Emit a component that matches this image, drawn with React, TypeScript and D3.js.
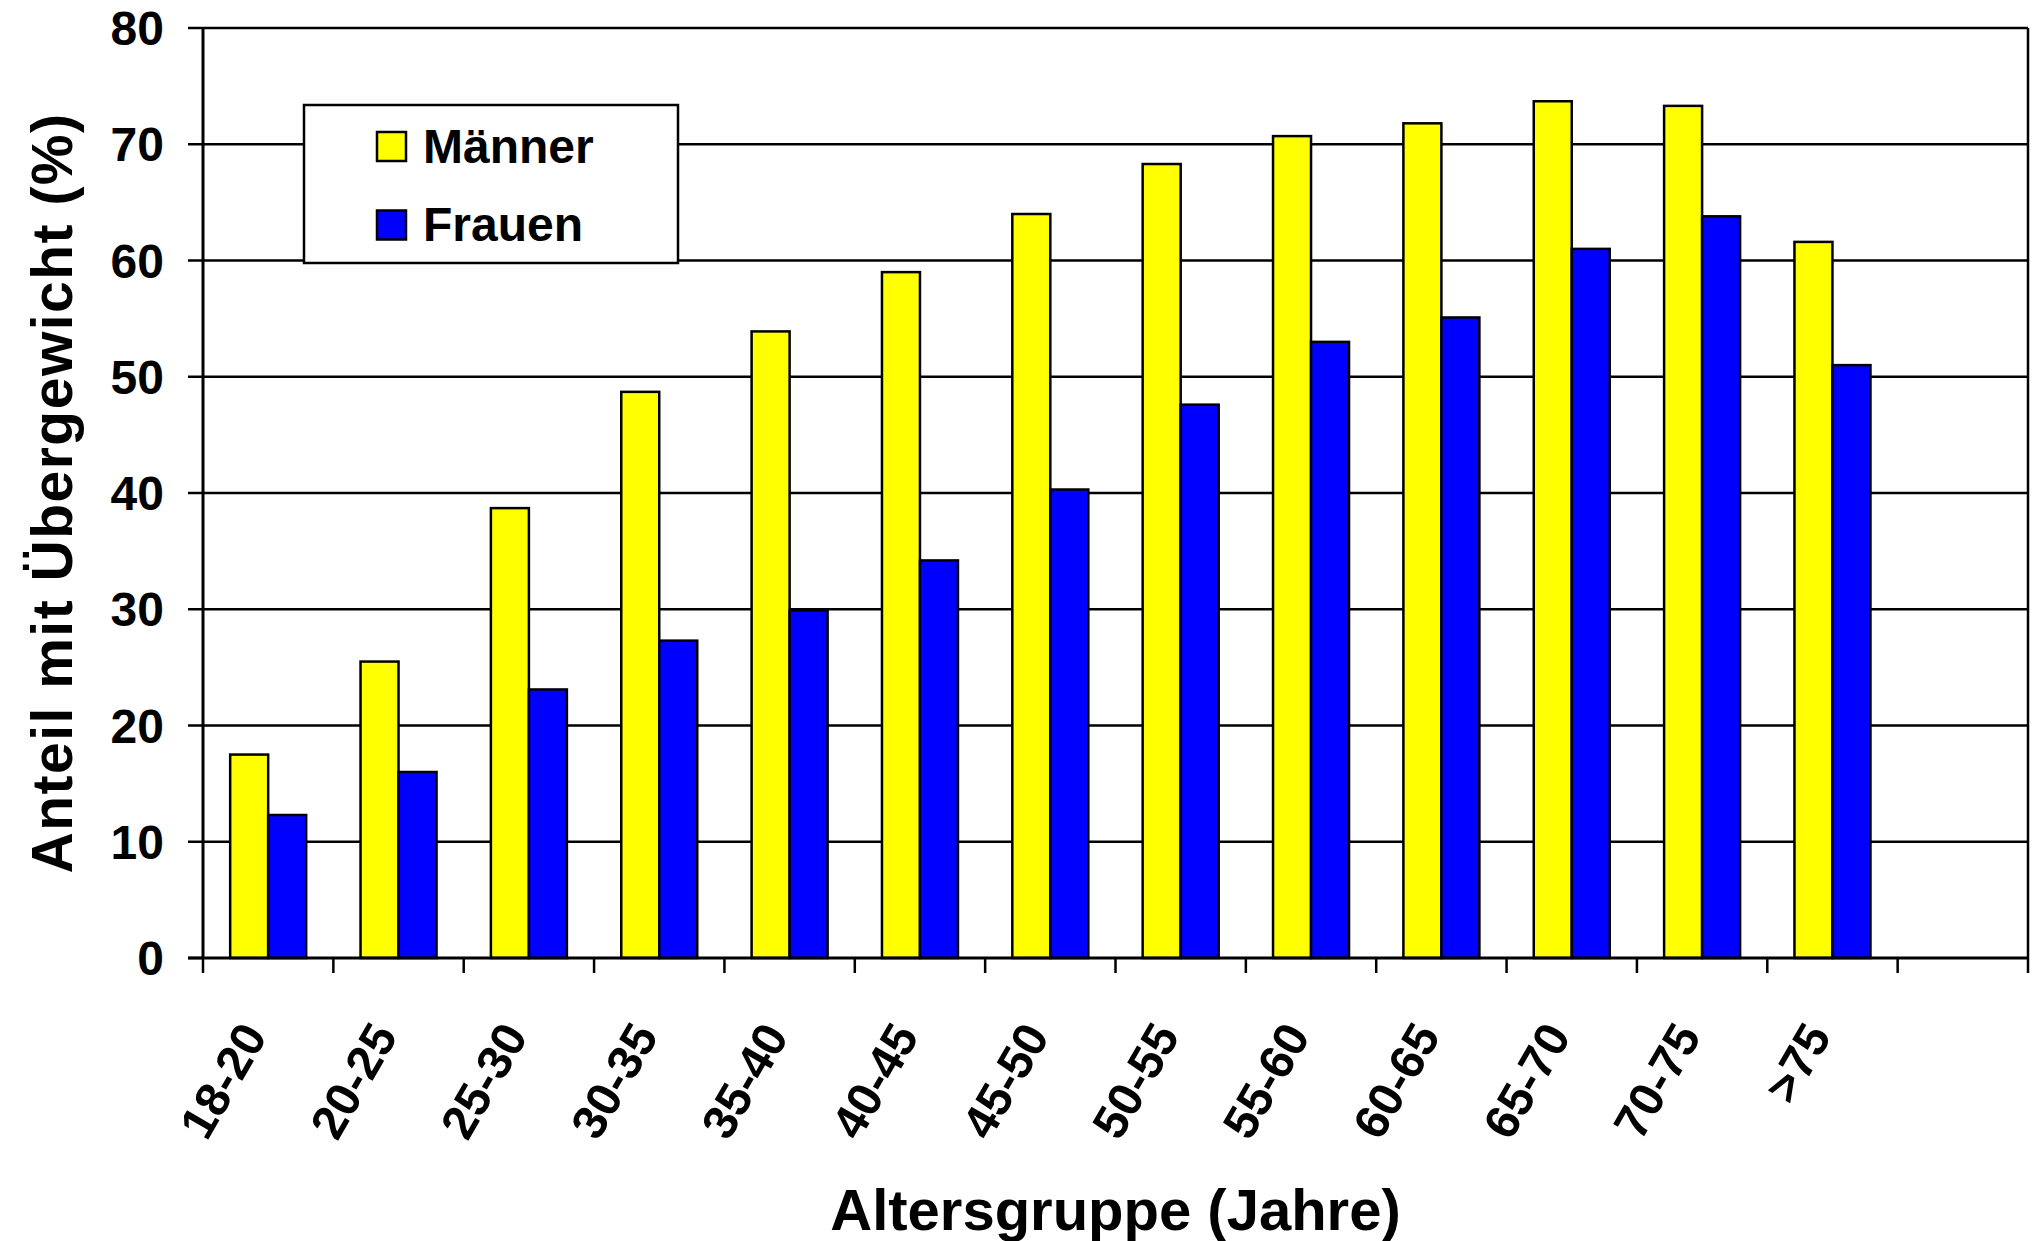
import React from "react";
import * as d3 from "d3";

const categories = ["18-20", "20-25", "25-30", "30-35", "35-40", "40-45", "45-50", "50-55", "55-60", "60-65", "65-70", "70-75", ">75"];
const maenner = [17.5, 25.5, 38.7, 48.7, 53.9, 59.0, 64.0, 68.3, 70.7, 71.8, 73.7, 73.3, 61.6];
const frauen = [12.3, 16.0, 23.1, 27.3, 29.9, 34.2, 40.3, 47.6, 53.0, 55.1, 61.0, 63.8, 51.0];
const seriesNames = ["Männer", "Frauen"];
const seriesColors = ["#FFFF00", "#0000FF"];
const yTicks = [0, 10, 20, 30, 40, 50, 60, 70, 80];
const yTitle = "Anteil mit Übergewicht (%)";
const xTitle = "Altersgruppe (Jahre)";

const W = 2033;
const H = 1241;
const FONT = "'Liberation Sans', Arial, Helvetica, sans-serif";

export default function App() {
  const left = 203;
  const right = 2028;
  const top = 28;
  const bottom = 958;

  const slots = [...categories, "__empty__"];
  const x0 = d3.scaleBand<string>().domain(slots).range([left, right]).padding(0);
  const bw = x0.bandwidth();
  const side = bw * 0.2085;
  const x1 = d3.scaleBand<string>().domain(seriesNames).range([side, bw - side]).padding(0);
  const y = d3.scaleLinear().domain([0, 80]).range([bottom, top]);

  const values = [maenner, frauen];
  const tickBounds = d3.range(slots.length + 1).map((i) => left + i * bw);

  return (
    <svg
      width={W}
      height={H}
      style={{ position: "absolute", left: 0, top: 0, background: "#fff" }}
      fontFamily={FONT}
      fontWeight="bold"
    >
      <rect x={0} y={0} width={W} height={H} fill="#fff" />
      {/* gridlines */}
      {yTicks.filter((t) => t !== 0).map((t) => (
        <line key={"g" + t} x1={left} x2={right} y1={y(t)} y2={y(t)} stroke="#000" strokeWidth={2.5} />
      ))}
      {/* y ticks */}
      {yTicks.map((t) => (
        <line key={"yt" + t} x1={left - 15} x2={left} y1={y(t)} y2={y(t)} stroke="#000" strokeWidth={2.5} />
      ))}
      {yTicks.map((t) => (
        <text key={"yl" + t} x={164} y={y(t) + 17} textAnchor="end" fontSize={48}>
          {t}
        </text>
      ))}
      {/* bars */}
      {categories.map((c, i) => (
        <g key={c} transform={`translate(${x0(c)},0)`}>
          {seriesNames.map((s, j) => (
            <rect
              key={s}
              x={x1(s)}
              y={y(values[j][i])}
              width={x1.bandwidth()}
              height={y(0) - y(values[j][i])}
              fill={seriesColors[j]}
              stroke="#000"
              strokeWidth={2.5}
            />
          ))}
        </g>
      ))}
      {/* axes */}
      <line x1={left} x2={left} y1={top} y2={bottom} stroke="#000" strokeWidth={3} />
      <line x1={right} x2={right} y1={top} y2={bottom} stroke="#000" strokeWidth={2.5} />
      <line x1={left - 15} x2={right} y1={bottom} y2={bottom} stroke="#000" strokeWidth={3} />
      {tickBounds.map((bx, i) => (
        <line key={"xt" + i} x1={bx} x2={bx} y1={bottom} y2={bottom + 15} stroke="#000" strokeWidth={2.5} />
      ))}
      {categories.map((c) => {
        const cx = (x0(c) as number) + bw / 2;
        const cy = 1036;
        return (
          <text key={"xl" + c} x={cx} y={cy} textAnchor="end" fontSize={48} transform={`rotate(-60 ${cx} ${cy})`}>
            {c}
          </text>
        );
      })}
      {/* legend */}
      <rect x={304} y={105} width={374} height={158} fill="#fff" stroke="#000" strokeWidth={2.5} />
      {seriesNames.map((s, j) => (
        <g key={"lg" + s}>
          <rect x={377} y={132 + j * 78.5} width={29} height={29} fill={seriesColors[j]} stroke="#000" strokeWidth={2.5} />
          <text x={423} y={162.5 + j * 78} fontSize={48}>
            {s}
          </text>
        </g>
      ))}
      {/* titles */}
      <text x={(left + right) / 2} y={1230} textAnchor="middle" fontSize={58}>
        {xTitle}
      </text>
      <text
        x={72}
        y={493}
        textAnchor="middle"
        fontSize={57}
        letterSpacing={1.5}
        transform={`rotate(-90 72 493)`}
      >
        {yTitle}
      </text>
    </svg>
  );
}
